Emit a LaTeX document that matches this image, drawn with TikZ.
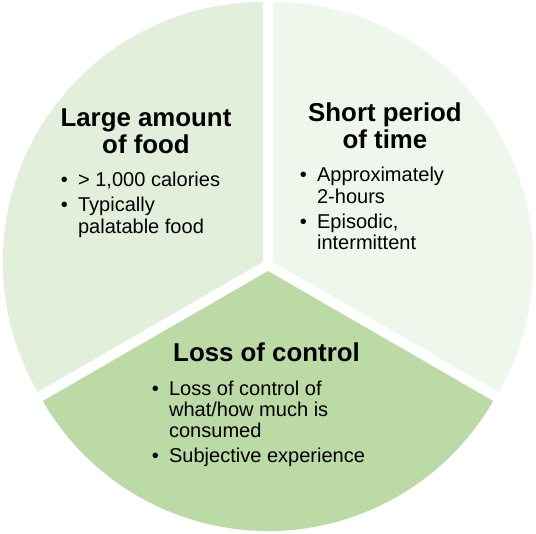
\documentclass[tikz,border=0pt]{standalone}
\usepackage{fontspec}
\setmainfont{Liberation Sans}
\definecolor{leftgreen}{HTML}{E2EFDA}
\definecolor{rightgreen}{HTML}{EFF6EB}
\definecolor{bottomgreen}{HTML}{BBDAA5}
\newcommand{\bul}{\makebox[9.8pt][l]{\textbullet}}
\begin{document}
\begin{tikzpicture}[line join=round, line cap=round,
	title/.style={inner sep=0pt, anchor=base, font=\fontsize{14.7}{14.8}\selectfont\bfseries},
	items/.style={inner sep=0pt, anchor=base west, font=\fontsize{11.4}{12.2}\selectfont}]
\useasboundingbox (-5.36,-5.36) rectangle (5.36,5.30);
% three sectors, pulled apart a little
\fill[leftgreen, shift={(150:0.12)}] (0,0) -- (90:5.2) arc (90:210:5.2) -- cycle;
\fill[rightgreen, shift={(30:0.12)}] (0,0) -- (-30:5.2) arc (-30:90:5.2) -- cycle;
\fill[bottomgreen, shift={(270:0.12)}] (0,0) -- (210:5.2) arc (210:330:5.2) -- cycle;
% texts
			\node[title] (amount) at (-2.44,2.77) {\begin{tabular}[t]{@{}c@{}}Large amount\\ of food\end{tabular}};
			\node[items] (amountlist) at (-4.15,1.56) {\begin{tabular}[t]{@{}l@{}}\bul > 1,000 calories\\[2pt]
				\bul Typically\\ \hphantom{\bul}palatable food\end{tabular}};
			\node[title] (time) at (2.34,2.86) {\begin{tabular}[t]{@{}c@{}}Short period\\ of time\end{tabular}};
			\node[items] (timelist) at (0.63,1.66) {\begin{tabular}[t]{@{}l@{}}\bul Approximately\\ \hphantom{\bul}2-hours\\[2pt]
				\bul Episodic,\\ \hphantom{\bul}intermittent\end{tabular}};
			\node[title] (control) at (-0.03,-1.93) {\begin{tabular}[t]{@{}c@{}}Loss of control\end{tabular}};
			\node[items] (controllist) at (-2.33,-2.6) {\begin{tabular}[t]{@{}l@{}}\bul Loss of control of\\ \hphantom{\bul}what/how much is\\ \hphantom{\bul}consumed\\[2pt]
				\bul Subjective experience\end{tabular}};
		\end{tikzpicture}
\end{document}
